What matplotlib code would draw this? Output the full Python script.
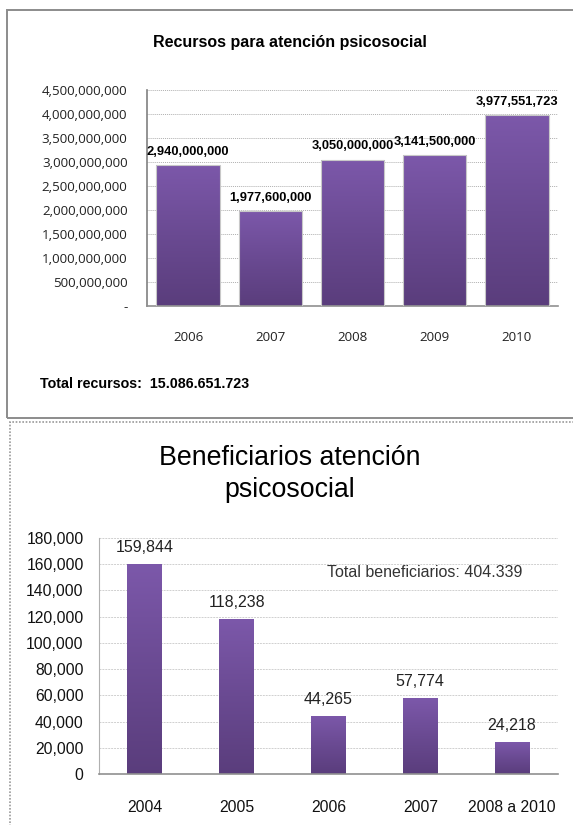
import matplotlib.pyplot as plt
import numpy as np
from matplotlib.colors import LinearSegmentedColormap
from matplotlib.patches import Rectangle
from matplotlib.ticker import FuncFormatter

# recursos por año
rec_years = ['2006', '2007', '2008', '2009', '2010']
rec_values = [2940000000, 1977600000, 3050000000, 3141500000, 3977551723]
rec_labels = ['2,940,000,000', '1,977,600,000', '3,050,000,000', '3,141,500,000', '3,977,551,723']

# beneficiarios por periodo
ben_years = ['2004', '2005', '2006', '2007', '2008 a 2010']
ben_values = [159844, 118238, 44265, 57774, 24218]

ARIAL = ['Liberation Sans', 'DejaVu Sans']
CALIBRI = ['Open Sans', 'DejaVu Sans']
PURPLE = LinearSegmentedColormap.from_list('purp', ['#5a3d7c', '#6a4a92', '#7c58aa'])


def gradient_bars(ax, bars):
    grad = np.linspace(0, 1, 256).reshape(-1, 1)
    for b in bars:
        x, y = b.get_x(), b.get_y()
        w, h = b.get_width(), b.get_height()
        im = ax.imshow(grad, cmap=PURPLE, aspect='auto', origin='lower',
                       extent=(x, x + w, y, y + h), zorder=2)
        im.set_clip_path(b)


def thousands(v, pos):
    if v == 0:
        return '-'
    return f'{int(v):,}'


fig = plt.figure(figsize=(5.73, 8.25), dpi=100)
W, H = 573, 825

# marcos de los dos recuadros
fig.patches.append(Rectangle((7 / W, 1 - 418 / H), 580 / W, 408 / H, transform=fig.transFigure,
                             fill=False, edgecolor='#8c8c8c', linewidth=1.4))
fig.patches.append(Rectangle((10 / W, -0.01), 580 / W, 1 - 422 / H + 0.01, transform=fig.transFigure,
                             fill=False, edgecolor='#9a9a9a', linewidth=1.2, linestyle=(0, (1, 1))))

# ---- Recursos ----
ax1 = fig.add_axes([147 / W, 1 - 306 / H, 411 / W, 216 / H])
x1 = np.arange(len(rec_years))
bars1 = ax1.bar(x1, rec_values, width=0.77, color='none', edgecolor='#c8c8c8',
                linewidth=0.8, zorder=3)
ax1.set_xlim(-0.5, len(rec_years) - 0.5)
ax1.set_ylim(0, 4500000000)
gradient_bars(ax1, bars1)
ax1.set_yticks(np.arange(0, 4500000001, 500000000))
ax1.yaxis.set_major_formatter(FuncFormatter(thousands))
ax1.set_xticks(x1)
ax1.set_xticklabels(rec_years)
ax1.tick_params(axis='y', length=0, pad=14, labelsize=9.6, labelcolor='#222222')
ax1.tick_params(axis='x', length=0, pad=18, labelsize=9.6, labelcolor='#222222')
ax1.grid(axis='y', color='#b0b0b0', linestyle=(0, (1, 1)), linewidth=0.7)
ax1.set_axisbelow(True)
for s in ['top', 'right']:
    ax1.spines[s].set_visible(False)
ax1.spines['left'].set_color('#808080')
ax1.spines['left'].set_linewidth(1.2)
ax1.spines['bottom'].set_color('#909090')
ax1.spines['bottom'].set_linewidth(1.2)
for xi, v, lab in zip(x1, rec_values, rec_labels):
    ax1.text(xi, v + 150000000, lab, ha='center', va='bottom', fontsize=9.3,
             fontweight='bold', family=ARIAL, color='black')
for t in ax1.get_yticklabels() + ax1.get_xticklabels():
    t.set_family(CALIBRI)

fig.text(290 / W, 1 - 42 / H, 'Recursos para atención psicosocial', ha='center', va='center',
         fontsize=11.5, fontweight='bold', family=ARIAL)
fig.text(40 / W, 1 - 384 / H, 'Total recursos:  15.086.651.723', ha='left', va='center',
         fontsize=10.3, fontweight='bold', family=ARIAL)

# ---- Beneficiarios ----
ax2 = fig.add_axes([99 / W, 1 - 774 / H, 459 / W, 236 / H])
x2 = np.arange(len(ben_years))
bars2 = ax2.bar(x2, ben_values, width=0.38, color='none', edgecolor='none', zorder=3)
ax2.set_xlim(-0.5, len(ben_years) - 0.5)
ax2.set_ylim(0, 180000)
gradient_bars(ax2, bars2)
ax2.set_yticks(np.arange(0, 180001, 20000))
ax2.yaxis.set_major_formatter(FuncFormatter(lambda v, p: f'{int(v):,}'))
ax2.set_xticks(x2)
ax2.set_xticklabels(ben_years)
ax2.tick_params(axis='y', length=0, pad=11, labelsize=11.3, labelcolor='#111111')
ax2.tick_params(axis='x', length=0, pad=19, labelsize=11.3, labelcolor='#111111')
ax2.grid(axis='y', color='#d0d0d0', linestyle=(0, (2, 1)), linewidth=0.7)
ax2.set_axisbelow(True)
for s in ['top', 'right']:
    ax2.spines[s].set_visible(False)
ax2.spines['left'].set_color('#b0b0b0')
ax2.spines['bottom'].set_color('#909090')
ax2.spines['bottom'].set_linewidth(1.2)
for t in ax2.get_yticklabels() + ax2.get_xticklabels():
    t.set_family(ARIAL)
for xi, v in zip(x2, ben_values):
    ax2.text(xi, v + 7000, f'{v:,}', ha='center', va='bottom', fontsize=11.5,
             family=ARIAL, color='#222222')
ax2.text(3.05, 154000, 'Total beneficiarios: 404.339', ha='center', va='center',
         fontsize=11.5, family=ARIAL, color='#333333')

fig.text(290 / W, 1 - 474 / H, 'Beneficiarios atención\npsicosocial', ha='center', va='center',
         fontsize=19.3, family=ARIAL, linespacing=1.3, color='black')

fig.savefig('out.png', dpi=100)
